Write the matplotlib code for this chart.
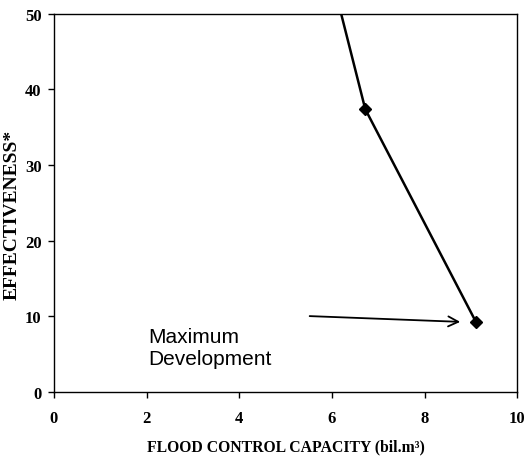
import matplotlib
matplotlib.use("Agg")
import matplotlib.pyplot as plt

capacity = [6.2, 6.72, 9.11]
effectiveness = [50.0, 37.4, 9.26]
marker_x = [6.72, 9.11]
marker_y = [37.4, 9.26]
xticks = [0, 2, 4, 6, 8, 10]
yticks = [0, 10, 20, 30, 40, 50]

fig = plt.figure(figsize=(5.24, 4.64), dpi=100)
ax = fig.add_axes([0.103, 0.153, 0.884, 0.815])
ax.plot(capacity, effectiveness, color="black", lw=1.8, clip_on=True)
ax.plot(marker_x, marker_y, ls="none", marker="D", ms=6, color="black")
ax.set_xlim(0, 10)
ax.set_ylim(0, 50)
ax.set_xticks(xticks)
ax.set_yticks(yticks)
for s in ax.spines.values():
    s.set_linewidth(1.0)
ax.tick_params(direction="out", length=4, width=1, labelsize=12)
ax.tick_params(axis="x", pad=9)
ax.tick_params(axis="y", pad=5)
for lab in ax.get_xticklabels() + ax.get_yticklabels():
    lab.set_family("Liberation Serif")
    lab.set_fontweight("bold")
ax.set_xlabel("FLOOD CONTROL CAPACITY (bil.m³)", family="Liberation Serif",
              fontweight="bold", fontsize=11.3)
ax.set_ylabel("EFFECTIVENESS*", family="Liberation Serif", fontweight="bold", fontsize=14)
ax.yaxis.set_label_coords(-0.073, 0.47)
ax.xaxis.set_label_coords(0.5, -0.122)

ax.annotate("", xy=(8.83, 9.26), xytext=(5.46, 10.05),
            arrowprops=dict(arrowstyle="->", color="black", lw=1.3, mutation_scale=18))
ax.text(2.03, 5.9, "Maximum\nDevelopment", family="Liberation Sans", fontsize=15,
        va="center", ha="left", linespacing=1.15)

fig.savefig("out.png", dpi=100)
